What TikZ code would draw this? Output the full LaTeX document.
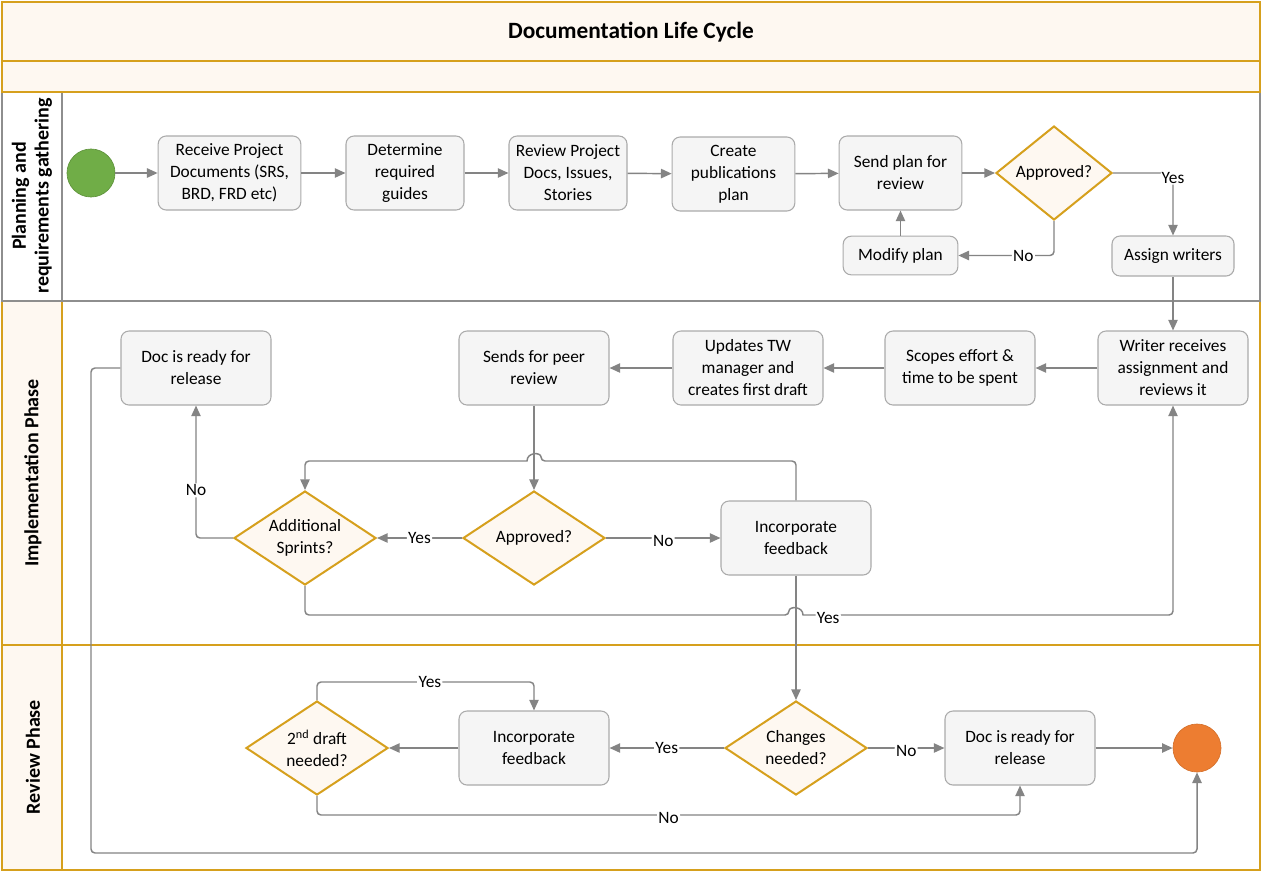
\documentclass[tikz,border=0pt]{standalone}
\usepackage{fontspec}
\setmainfont{Carlito}
\usetikzlibrary{shapes.geometric,arrows.meta}
\definecolor{gold}{HTML}{D6A01D}
\definecolor{cream}{HTML}{FEF8F1}
\definecolor{boxfill}{HTML}{F5F5F5}
\definecolor{boxline}{HTML}{ABABAB}
\definecolor{edgegray}{HTML}{848484}
\definecolor{lanegray}{HTML}{8E8E8E}
\definecolor{startgreen}{HTML}{70AD47}
\definecolor{endorange}{HTML}{ED7D31}
\begin{document}
\begin{tikzpicture}[x=0.75pt,y=-0.75pt,
  txt/.style={font=\fontsize{13}{16.5}\selectfont, text=black, align=center},
  box/.style={txt, draw=boxline, fill=boxfill, line width=0.8pt, rounded corners=6pt,
    minimum width=112.5pt, minimum height=55.5pt, inner sep=1pt},
  dia/.style={txt, shape=diamond, draw=gold, fill=cream, line width=1.5pt, aspect=1.5,
    inner sep=0pt, minimum width=106.5pt, minimum height=70.5pt},
  startc/.style={circle, draw=startgreen!85!black, fill=startgreen, minimum size=36pt, inner sep=0pt, line width=0.5pt},
  endc/.style={circle, draw=endorange!90!black, fill=endorange, minimum size=36pt, inner sep=0pt, line width=0.5pt},
  conn/.style={draw=edgegray, line width=1.1pt, rounded corners=3pt,
    -{Triangle[length=8pt,width=7pt]}},
  lbl/.style={font=\fontsize{13}{14}\selectfont, text=black, fill=white, inner sep=1pt},
  lanelabel/.style={font=\bfseries\fontsize{15}{17}\selectfont, text=black, align=center, rotate=90},
  goldline/.style={draw=gold, line width=1.5pt},
  grayline/.style={draw=lanegray, line width=1.2pt}
]
\useasboundingbox (0,0) rectangle (1263,872);
\fill[white] (0,0) rectangle (1263,872);

% lanes
\path[goldline, fill=white] (2,301) rectangle (1260,645);
\path[goldline, fill=cream] (2,301) rectangle (62,645);
\path[goldline, fill=white] (2,645) rectangle (1260,870);
\path[goldline, fill=cream] (2,645) rectangle (62,870);
\path[grayline, fill=white] (2,92) rectangle (1260,301);
\draw[grayline] (62,92) -- (62,301);
% title bands
\path[goldline, fill=cream] (2,2) rectangle (1260,61);
\path[goldline, fill=cream] (2,61) rectangle (1260,92);

\node[font=\bfseries\fontsize{17.5}{20}\selectfont] (title) at (631,32.5) {Documentation Life Cycle};
\node[lanelabel] (l1) at (32,196) {Planning and\\requirements gathering};
\node[lanelabel] (l2) at (33,473) {Implementation Phase};
\node[lanelabel] (l3) at (33,757) {Review Phase};

% planning lane
\node[startc] (st) at (91,173) {};
\node[box, minimum width=107pt] (rcv) at (229.5,173) {Receive Project\\Documents (SRS,\\BRD, FRD etc)};
\node[box, minimum width=88.5pt] (det) at (405,173) {Determine\\required\\guides};
\node[box, minimum width=88.5pt] (rev) at (568,173) {Review Project\\Docs, Issues,\\Stories};
\node[box, minimum width=92pt] (cre) at (733.5,174) {Create\\publications\\plan};
\node[box, minimum width=92pt] (snd) at (900.5,173) {Send plan for\\review};
\node[dia, minimum width=87pt] (ap1) at (1054,173) {Approved?};
\node[box, minimum width=86pt, minimum height=29pt] (mod) at (900.5,255.5) {Modify plan};
\node[box, minimum width=91.5pt, minimum height=30pt] (asg) at (1173,256) {Assign writers};

% implementation lane
\node[box] (wri) at (1173,368) {Writer receives\\assignment and\\reviews it};
\node[box] (sco) at (960,368) {Scopes effort \&\\time to be spent};
\node[box] (upd) at (748,368) {Updates TW\\manager and\\creates first draft};
\node[box] (spr) at (534,368) {Sends for peer\\review};
\node[box] (drI) at (196,368) {Doc is ready for\\release};
\node[dia] (ap2) at (534,538) {Approved?};
\node[dia] (add) at (305,538) {Additional\\Sprints?};
\node[box] (incI) at (796,538) {Incorporate\\feedback};

% review lane
\node[dia] (sec) at (317,748) {2\textsuperscript{nd} draft\\needed?};
\node[box] (incR) at (534,748) {Incorporate\\feedback};
\node[dia] (chg) at (796,748) {Changes\\needed?};
\node[box] (drR) at (1020,748) {Doc is ready for\\release};
\node[endc] (en) at (1197,748) {};

% connectors: planning
\draw[conn] (st) -- (rcv);
\draw[conn] (rcv) -- (det);
\draw[conn] (det) -- (rev);
\draw[conn] (rev) -- (cre);
\draw[conn] (cre) -- (snd);
\draw[conn] (snd) -- (ap1);
\draw[conn] (ap1.east) -| node[lbl, pos=0.5, yshift=-3.5pt]{Yes} (asg.north);
\draw[conn] (ap1.south) |- node[lbl, pos=0.66]{No} (mod.east);
\draw[conn] (mod) -- (snd);
\draw[conn] (asg) -- (wri);

% connectors: implementation
\draw[conn] (wri) -- (sco);
\draw[conn] (sco) -- (upd);
\draw[conn] (upd) -- (spr);
\draw[conn] (spr) -- (ap2);
\draw[conn] (ap2) -- node[lbl]{Yes} (add);
\draw[conn] (ap2) -- node[lbl, yshift=-2pt]{No} (incI);
\draw[conn] (incI.north) -- (796,461) -- (541,461) [sharp corners]
   .. controls (541,452) and (527,452) .. (527,461) [rounded corners=3pt]
   -- (305,461) -- (add.north);
\draw[conn] (add.west) -| node[lbl, pos=0.68]{No} (drI.south);
\draw[conn] (add.south) -- (305,615) -- (789,615) [sharp corners]
   .. controls (789,606) and (803,606) .. (803,615) [rounded corners=3pt]
   -- node[lbl, pos=0.068, yshift=-2pt]{Yes} (1173,615) -- (wri.south);
\draw[conn] (incI.south) -- (chg.north);
\draw[conn] (drI.west) -- (91,368) -- (91,853) -- (1197,853) -- (en.south);

% connectors: review
\draw[conn] (chg) -- node[lbl]{Yes} (incR);
\draw[conn] (chg) -- node[lbl, yshift=-2pt]{No} (drR);
\draw[conn] (incR) -- (sec);
\draw[conn] (sec.north) -- (317,682) -- node[lbl, pos=0.52]{Yes} (534,682) -- (incR.north);
\draw[conn] (sec.south) -- (317,815) -- node[lbl, yshift=-2pt]{No} (1020,815) -- (drR.south);
\draw[conn] (drR) -- (en);
\end{tikzpicture}
\end{document}
